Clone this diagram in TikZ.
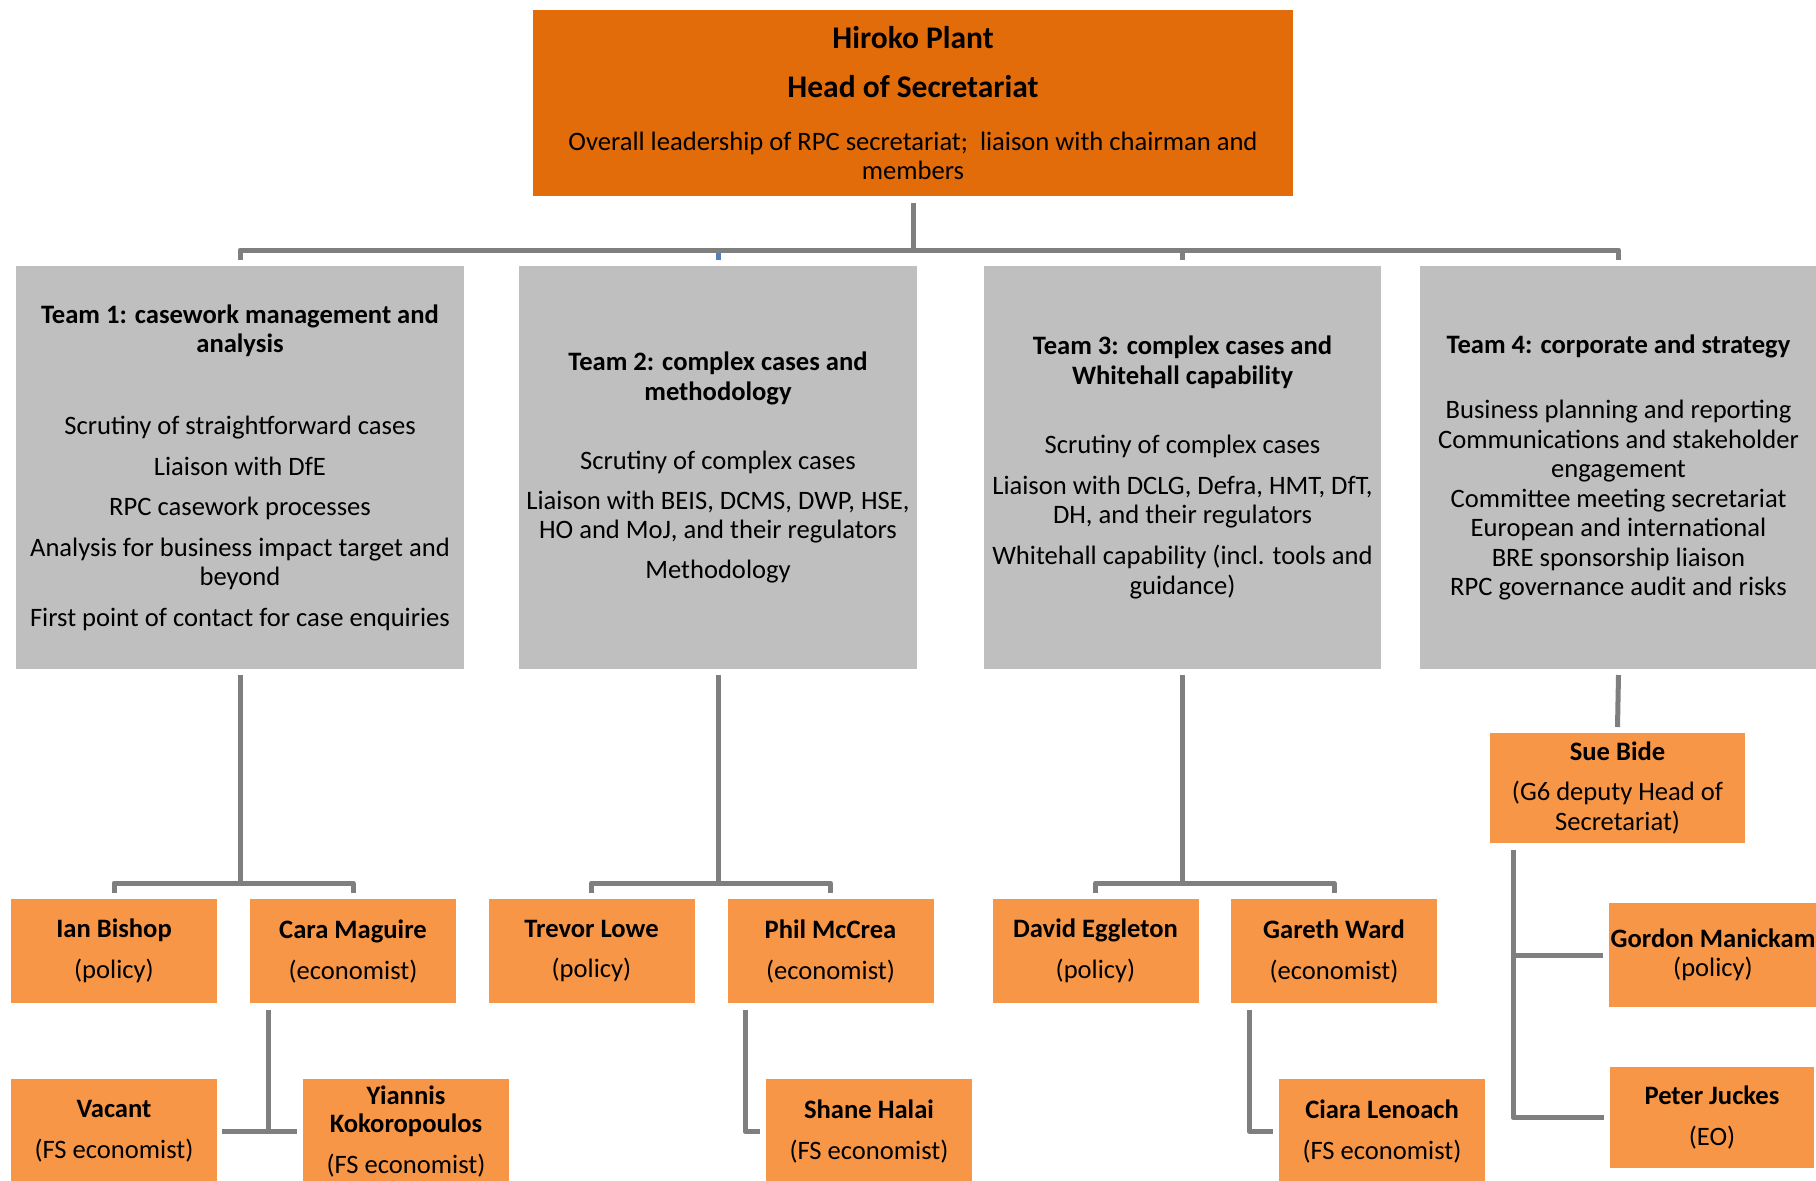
\documentclass[tikz,border=0pt]{standalone}
\usepackage{fontspec}
\setmainfont{Carlito}
\definecolor{topor}{HTML}{E36C0A}
\definecolor{nameor}{HTML}{F79646}
\definecolor{teamgr}{HTML}{BFBFBF}
\definecolor{linegr}{HTML}{7F7F7F}
\definecolor{tickbl}{HTML}{4F81BD}
\begin{document}
\begin{tikzpicture}[x=0.5pt,y=-0.5pt,
  every node/.style={inner sep=0pt, outer sep=0pt, align=center, font=\fontsize{13.3}{14.75}\selectfont},
  topbox/.style={fill=topor, minimum width=380pt, minimum height=93pt},
  teambox/.style={fill=teamgr, minimum height=201.5pt, execute at begin node={\rule{0pt}{11.5pt}}},
  namebox/.style={fill=nameor, minimum width=103pt, minimum height=52pt, execute at begin node={\rule{0pt}{11.5pt}}},
  conn/.style={draw=linegr, line width=2.5pt, line join=round}
]
\useasboundingbox[fill=white] (0,0) rectangle (1816,1180);

% head
\node[topbox] (top) at (913,103) {{\fontsize{15.75}{14.75}\selectfont\bfseries Hiroko Plant}\\[9.75pt]{\fontsize{15.75}{14.75}\selectfont\bfseries Head of Secretariat}\\[11.75pt]Overall leadership of RPC secretariat;\ \ liaison with chairman and\\members};

% teams
\node[teambox, minimum width=224pt] (t1) at (240,467.5) {\textbf{Team 1: casework management and}\\\textbf{analysis}\\[26.25pt]Scrutiny of straightforward cases\\[5.5pt]Liaison with DfE\\[5.5pt]RPC casework processes\\[5.5pt]Analysis for business impact target and\\beyond\\[5.5pt]First point of contact for case enquiries};
\node[teambox, minimum width=199pt] (t2) at (718,467.5) {\textbf{Team 2: complex cases and}\\\textbf{methodology}\\[19.75pt]Scrutiny of complex cases\\[5.25pt]Liaison with BEIS, DCMS, DWP, HSE,\\HO and MoJ, and their regulators\\[5.25pt]Methodology};
\node[teambox, minimum width=198.5pt] (t3) at (1182.5,467.5) {\textbf{Team 3: complex cases and}\\\textbf{Whitehall capability}\\[19.75pt]Scrutiny of complex cases\\[5.75pt]Liaison with DCLG, Defra, HMT, DfT,\\DH, and their regulators\\[5.75pt]Whitehall capability (incl. tools and\\guidance)};
\node[teambox, minimum width=198.5pt] (t4) at (1618.5,467.5) {\textbf{Team 4: corporate and strategy}\\[17.75pt]Business planning and reporting\\Communications and stakeholder\\engagement\\Committee meeting secretariat\\European and international\\BRE sponsorship liaison\\RPC governance audit and risks};

% people row 1
\node[namebox] (ian) at (114,951) {\textbf{Ian Bishop}\\[5.75pt](policy)};
\node[namebox] (cara) at (353,951) {\textbf{Cara Maguire}\\[5.75pt](economist)};
\node[namebox] (trev) at (591.5,951) {\textbf{Trevor Lowe}\\[5.75pt](policy)};
\node[namebox] (phil) at (830.5,951) {\textbf{Phil McCrea}\\[5.75pt](economist)};
\node[namebox] (dav) at (1095.5,951) {\textbf{David Eggleton}\\[5.75pt](policy)};
\node[namebox] (gar) at (1334,951) {\textbf{Gareth Ward}\\[5.75pt](economist)};

% people row 2
\node[namebox, minimum height=52.5pt] (vac) at (114,1131.5) {\textbf{Vacant}\\[5.75pt](FS economist)};
\node[namebox, minimum height=52.5pt] (yia) at (406,1131.5) {\textbf{Yiannis}\\[-0.5pt]\textbf{Kokoropoulos}\\[5.75pt](FS economist)};
\node[namebox, minimum height=52.5pt] (sha) at (869,1131.5) {\textbf{Shane Halai}\\[5.75pt](FS economist)};
\node[namebox, minimum height=52.5pt] (cia) at (1382,1131) {\textbf{Ciara Lenoach}\\[5.75pt](FS economist)};

% team 4 people
\node[namebox, minimum width=127.5pt, minimum height=55pt] (sue) at (1617.5,788) {\textbf{Sue Bide}\\[5.25pt](G6 deputy Head of\\Secretariat)};
\node[namebox, minimum width=104pt] (gor) at (1713,955) {\textbf{Gordon Manickam}\\(policy)};
\node[namebox, minimum width=102pt, minimum height=50.5pt] (pet) at (1712,1117.5) {\textbf{Peter Juckes}\\[5.75pt](EO)};

% connectors: head to teams
\coordinate (bus) at (913,250);
\draw[conn] ([yshift=-3.5pt]top.south) -- (bus);
\draw[conn] ([yshift=3pt]t1.north) -- (t1.north |- bus) -- (t4.north |- bus) -- ([yshift=3pt]t4.north);
\draw[conn] (t3.north |- bus) -- ([yshift=3pt]t3.north);
\draw[conn, draw=tickbl] ([yshift=-1.5pt]t2.north |- bus) -- ([yshift=3pt]t2.north);

% team 1
\coordinate (b1) at (240,883);
\draw[conn] ([yshift=-3pt]t1.south) -- (b1);
\draw[conn] ([yshift=3pt]ian.north) -- (ian.north |- b1) -- (cara.north |- b1) -- ([yshift=3pt]cara.north);
\coordinate (c1) at (268,1010);
\draw[conn] (c1) -- (c1 |- vac.east);
\draw[conn] ([xshift=2.5pt]vac.east) -- ([xshift=-3pt]yia.west);

% team 2
\coordinate (b2) at (718,883);
\draw[conn] ([yshift=-3pt]t2.south) -- (b2);
\draw[conn] ([yshift=3pt]trev.north) -- (trev.north |- b2) -- (phil.north |- b2) -- ([yshift=3pt]phil.north);
\coordinate (p1) at (745,1010);
\draw[conn] (p1) -- (p1 |- sha.west) -- ([xshift=-3pt]sha.west);

% team 3
\coordinate (b3) at (1182.5,883);
\draw[conn] ([yshift=-3pt]t3.south) -- (b3);
\draw[conn] ([yshift=3pt]dav.north) -- (dav.north |- b3) -- (gar.north |- b3) -- ([yshift=3pt]gar.north);
\coordinate (g1) at (1249,1010);
\draw[conn] (g1) -- (g1 |- cia.west) -- ([xshift=-3pt]cia.west);

% team 4
\draw[conn] ([yshift=-3pt]t4.south) -- ([yshift=3pt]sue.north);
\coordinate (s1) at (1513,850);
\draw[conn] (s1) -- (s1 |- pet.west) -- ([xshift=-3pt]pet.west);
\draw[conn] (s1 |- gor.west) -- ([xshift=-3pt]gor.west);
\end{tikzpicture}
\end{document}
